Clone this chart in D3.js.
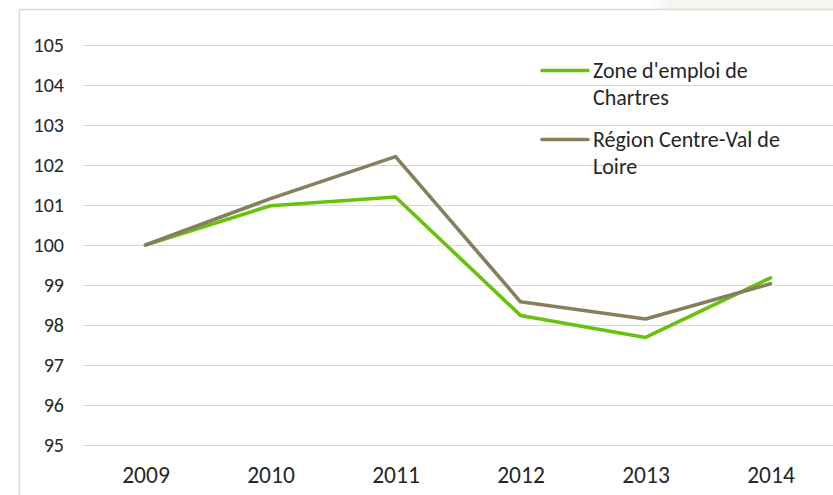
<!DOCTYPE html>
<html>
<head>
<meta charset="utf-8">
<script src="https://cdn.jsdelivr.net/npm/d3@7"></script>
<style>
  html, body { margin: 0; padding: 0; background: #fff; }
  .graph text { font-family: Carlito, Calibri, "Open Sans", sans-serif; fill: #262626; }
</style>
</head>
<body>
<svg class="graph" width="833" height="495"></svg>
<script>
//======
// Data
//======

var years = ["2009", "2010", "2011", "2012", "2013", "2014"];
var chartres = [100, 100.98, 101.2, 98.24, 97.69, 99.18];
var centreValDeLoire = [100, 101.16, 102.21, 98.58, 98.15, 99.03];
var yTicks = [95, 96, 97, 98, 99, 100, 101, 102, 103, 104, 105];

var series = [
  { name: ["Zone d'emploi de", "Chartres"], values: chartres, color: "#66c20a" },
  { name: ["Région Centre-Val de", "Loire"], values: centreValDeLoire, color: "#857f5e" }
];

//=======
// Chart
//=======

var svg = d3.select(".graph");
var width = 833, height = 495;
var margin = {top: 45, left: 83, bottom: 50, right: 0};

// faint shading top right (cropped screenshot)
var defs = svg.append("defs");
var grad = defs.append("linearGradient").attr("id", "fade");
grad.append("stop").attr("offset", "0%").attr("stop-color", "#f8f4ef").attr("stop-opacity", 0);
grad.append("stop").attr("offset", "12%").attr("stop-color", "#f8f4ef").attr("stop-opacity", 1);
svg.append("rect")
  .attr("x", 650).attr("y", 0)
  .attr("width", width - 650).attr("height", 9)
  .attr("fill", "url(#fade)");

// chart frame
svg.append("path")
  .attr("d", "M19.5," + height + "V9.5H" + width)
  .attr("fill", "none")
  .attr("stroke", "#d9d9d9")
  .attr("stroke-width", 1.5);

var x = d3.scalePoint()
  .domain(years)
  .range([margin.left, width - margin.right])
  .padding(0.5);

var y = d3.scaleLinear()
  .domain([95, 105])
  .range([445, margin.top]);

// gridlines + y labels
var yAxis = svg.append("g")
  .attr("transform", "translate(" + margin.left + ",0)")
  .call(d3.axisLeft(y)
    .tickValues(yTicks)
    .tickSize(-(width - margin.left))
    .tickPadding(19)
    .tickFormat(d3.format("d")));

yAxis.select(".domain").remove();
yAxis.selectAll(".tick line")
  .attr("stroke", "#d9d9d9")
  .attr("stroke-width", 1.2);
yAxis.selectAll(".tick text")
  .attr("font-size", 20)
  .attr("font-family", null);

// x labels
var xAxis = svg.append("g")
  .attr("transform", "translate(0,445)")
  .call(d3.axisBottom(x).tickSize(0).tickPadding(21));

xAxis.select(".domain").remove();
xAxis.selectAll(".tick text")
  .attr("font-size", 23.5)
  .attr("font-family", null);

// lines
var line = d3.line()
  .x(function (d, i) { return x(years[i]); })
  .y(function (d) { return y(d); });

svg.append("g")
  .selectAll("path")
  .data(series)
  .enter()
  .append("path")
  .attr("d", function (d) { return line(d.values); })
  .attr("fill", "none")
  .attr("stroke", function (d) { return d.color; })
  .attr("stroke-width", 3.6)
  .attr("stroke-linejoin", "round")
  .attr("stroke-linecap", "round");

// legend
var legend = svg.append("g")
  .selectAll("g")
  .data(series)
  .enter()
  .append("g")
  .attr("transform", function (d, i) { return "translate(542," + (70.5 + i * 69) + ")"; });

legend.append("line")
  .attr("x1", 0).attr("x2", 46)
  .attr("stroke", function (d) { return d.color; })
  .attr("stroke-width", 3.6)
  .attr("stroke-linecap", "round");

legend.append("text")
  .attr("x", 51)
  .attr("font-size", 22)
  .selectAll("tspan")
  .data(function (d) { return d.name; })
  .enter()
  .append("tspan")
  .attr("x", 51)
  .attr("y", function (d, i) { return 7 + i * 27; })
  .text(function (d) { return d; });
</script>
</body>
</html>
